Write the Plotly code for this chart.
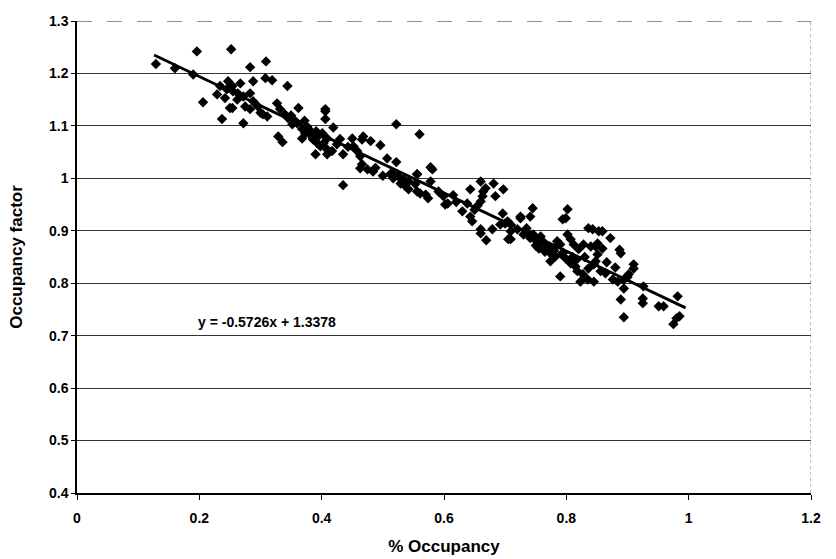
import plotly.graph_objects as go

# Scatter data (% occupancy, occupancy factor)
occupancy = [
    0.129, 0.160, 0.196, 0.252, 0.190, 0.206, 0.237, 0.247, 0.245, 0.242, 0.250, 0.263, 0.234,
    0.283, 0.267, 0.288, 0.308, 0.319, 0.344, 0.254, 0.255, 0.254, 0.272, 0.283, 0.275, 0.283,
    0.288, 0.296, 0.304, 0.311, 0.272, 0.327, 0.332, 0.340, 0.345, 0.362, 0.352, 0.357, 0.329,
    0.336, 0.368, 0.373, 0.381, 0.376, 0.368, 0.386, 0.393, 0.406, 0.406, 0.398, 0.390, 0.409,
    0.409, 0.401, 0.309, 0.229, 0.262, 0.300, 0.350, 0.378, 0.391, 0.360, 0.385, 0.396, 0.372,
    0.419, 0.522, 0.406, 0.403, 0.409, 0.417, 0.435, 0.435, 0.468, 0.466, 0.480, 0.496, 0.452,
    0.458, 0.463, 0.466, 0.463, 0.475, 0.484, 0.507, 0.522, 0.512, 0.517, 0.525, 0.534, 0.542,
    0.529, 0.537, 0.542, 0.556, 0.556, 0.560, 0.450, 0.443, 0.430, 0.425, 0.488, 0.500, 0.515,
    0.578, 0.581, 0.556, 0.553, 0.561, 0.570, 0.574, 0.578, 0.591, 0.599, 0.606, 0.602, 0.630,
    0.643, 0.646, 0.638, 0.643, 0.660, 0.664, 0.663, 0.668, 0.660, 0.681, 0.684, 0.697, 0.696,
    0.660, 0.660, 0.679, 0.669, 0.692, 0.704, 0.705, 0.615, 0.620, 0.650, 0.655,
    0.725, 0.745, 0.741, 0.802, 0.794, 0.799, 0.836, 0.853, 0.709, 0.700, 0.709, 0.720, 0.730,
    0.741, 0.753, 0.746, 0.758, 0.763, 0.755, 0.769, 0.774, 0.779, 0.782, 0.790, 0.802, 0.807,
    0.812, 0.820, 0.828, 0.840, 0.851, 0.774, 0.799, 0.807, 0.815, 0.818, 0.827, 0.835, 0.845,
    0.823, 0.836, 0.848, 0.790, 0.725, 0.709, 0.735, 0.750, 0.765, 0.785, 0.795, 0.810, 0.760,
    0.770, 0.738, 0.748, 0.780, 0.792, 0.817, 0.830,
    0.843, 0.859, 0.872, 0.848, 0.859, 0.887, 0.889, 0.851, 0.845, 0.856, 0.864, 0.876, 0.884,
    0.894, 0.902, 0.910, 0.910, 0.894, 0.889, 0.926, 0.925, 0.925, 0.951, 0.959, 0.982, 0.894,
    0.975, 0.985, 0.980, 0.866, 0.880, 0.900,
]
factor = [
    1.218, 1.210, 1.242, 1.246, 1.198, 1.145, 1.113, 1.185, 1.170, 1.153, 1.134, 1.162, 1.176,
    1.212, 1.181, 1.185, 1.191, 1.187, 1.176, 1.176, 1.166, 1.134, 1.156, 1.162, 1.137, 1.132,
    1.147, 1.137, 1.122, 1.118, 1.105, 1.143, 1.132, 1.122, 1.115, 1.134, 1.103, 1.109, 1.080,
    1.069, 1.094, 1.086, 1.084, 1.099, 1.076, 1.074, 1.067, 1.132, 1.113, 1.061, 1.046, 1.055,
    1.076, 1.086, 1.223, 1.160, 1.150, 1.125, 1.120, 1.095, 1.090, 1.105, 1.078, 1.082, 1.110,
    1.097, 1.103, 1.128, 1.067, 1.046, 1.052, 1.046, 0.987, 1.080, 1.074, 1.071, 1.063, 1.061,
    1.052, 1.042, 1.027, 1.019, 1.017, 1.013, 1.038, 1.031, 1.008, 1.000, 1.004, 0.998, 0.994,
    0.990, 0.985, 0.979, 1.008, 0.975, 1.084, 1.076, 1.060, 1.075, 1.065, 1.020, 1.005, 1.010,
    1.021, 1.017, 1.008, 0.989, 0.971, 0.969, 0.962, 0.994, 0.975, 0.966, 0.952, 0.950, 0.937,
    0.927, 0.918, 0.952, 0.979, 0.994, 0.975, 0.966, 0.981, 0.956, 0.990, 0.966, 0.979, 0.933,
    0.903, 0.895, 0.903, 0.882, 0.912, 0.918, 0.884, 0.968, 0.955, 0.940, 0.948,
    0.927, 0.943, 0.927, 0.941, 0.922, 0.924, 0.905, 0.899, 0.884, 0.914, 0.912, 0.903, 0.893,
    0.886, 0.880, 0.893, 0.889, 0.876, 0.866, 0.866, 0.857, 0.866, 0.851, 0.874, 0.893, 0.884,
    0.874, 0.865, 0.874, 0.870, 0.876, 0.842, 0.847, 0.838, 0.832, 0.823, 0.817, 0.807, 0.803,
    0.803, 0.828, 0.842, 0.813, 0.924, 0.899, 0.905, 0.872, 0.860, 0.880, 0.858, 0.850, 0.882,
    0.870, 0.895, 0.884, 0.862, 0.855, 0.845, 0.850,
    0.903, 0.899, 0.886, 0.870, 0.866, 0.864, 0.857, 0.855, 0.836, 0.823, 0.819, 0.807, 0.803,
    0.807, 0.817, 0.836, 0.828, 0.790, 0.769, 0.794, 0.771, 0.762, 0.756, 0.756, 0.775, 0.735,
    0.722, 0.737, 0.733, 0.840, 0.830, 0.812,
]

# Trend line as drawn in the reference (end points)
trend_x = [0.126, 0.995]
trend_y = [1.235, 0.753]
equation_text = "y = -0.5726x + 1.3378"

x_ticks = [0, 0.2, 0.4, 0.6, 0.8, 1, 1.2]
y_ticks = [0.4, 0.5, 0.6, 0.7, 0.8, 0.9, 1.0, 1.1, 1.2, 1.3]
y_labels = ["0.4", "0.5", "0.6", "0.7", "0.8", "0.9", "1", "1.1", "1.2", "1.3"]

FONT = "Liberation Sans, Arial, sans-serif"

fig = go.Figure()
fig.add_trace(go.Scatter(
    x=occupancy, y=factor, mode="markers",
    marker=dict(symbol="diamond", size=8, color="black", line=dict(width=0)),
    showlegend=False, hoverinfo="x+y",
))
fig.add_trace(go.Scatter(
    x=trend_x, y=trend_y, mode="lines",
    line=dict(color="black", width=2.8),
    showlegend=False, hoverinfo="skip",
))

fig.add_annotation(
    x=0.194, y=0.727, xref="x", yref="y", text=equation_text, showarrow=False,
    xanchor="left", yanchor="middle",
    font=dict(family=FONT, size=14, color="black", weight="bold"),
)

# top border line and dotted right border of the plot area
fig.add_shape(type="line", xref="x", yref="y", x0=0, x1=1.2, y0=1.3, y1=1.3,
              line=dict(color="#222", width=1.2, dash="longdash"))
fig.add_shape(type="line", xref="x", yref="y", x0=1.2, x1=1.2, y0=0.4, y1=1.3,
              line=dict(color="#777", width=1, dash="dot"))

fig.update_layout(
    width=836, height=559,
    margin=dict(l=77, r=25, t=21, b=66),
    paper_bgcolor="white", plot_bgcolor="white",
    font=dict(family=FONT, color="black"),
    xaxis=dict(
        range=[0, 1.2], tickvals=x_ticks, ticktext=[str(v) for v in x_ticks],
        showgrid=False, zeroline=False, automargin=False,
        showline=True, linecolor="black", linewidth=1.5,
        ticks="outside", ticklen=5, tickcolor="black", ticklabelstandoff=6,
        tickfont=dict(family=FONT, size=14, weight="bold"),
        title=dict(text="% Occupancy", font=dict(family=FONT, size=17, weight="bold"), standoff=16),
    ),
    yaxis=dict(
        range=[0.4, 1.3], tickvals=y_ticks, ticktext=y_labels,
        showgrid=True, gridcolor="#333", gridwidth=1, zeroline=False, automargin=False,
        showline=True, linecolor="black", linewidth=1.5,
        ticks="outside", ticklen=4, tickcolor="black",
        tickfont=dict(family=FONT, size=14, weight="bold"),
        title=dict(text="Occupancy factor", font=dict(family=FONT, size=17, weight="bold"), standoff=22),
    ),
)

fig.write_html("out.html")
